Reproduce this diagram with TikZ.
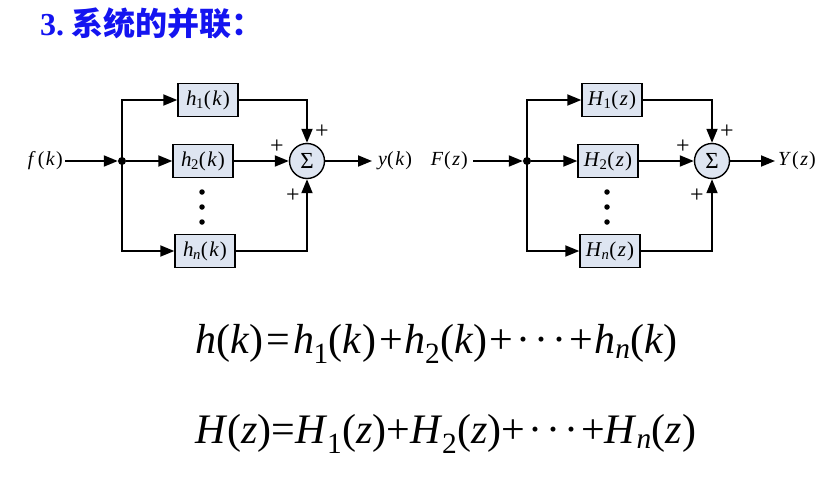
\documentclass[tikz,border=0pt]{standalone}
\usepackage{fontspec}
\setmainfont{Liberation Serif}
\newfontfamily\cjk{Noto Sans CJK SC}
\usetikzlibrary{arrows.meta,calc}
\definecolor{boxfill}{RGB}{222,229,241}
\definecolor{titleblue}{RGB}{20,20,240}
\newcommand{\vv}[1]{\textit{#1}}
\newcommand{\sbs}[1]{\kern-0.5pt\textsubscript{#1}}
\newcommand{\pk}[1]{(\kern1.5pt\textit{#1}\kern1pt)}
\newcommand{\cdts}{\kern3pt\textperiodcentered\kern4pt\textperiodcentered\kern4pt\textperiodcentered\kern3pt}
\begin{document}
\begin{tikzpicture}[x=1pt,y=-1pt,
  blk/.style={draw, line width=1.4pt, fill=boxfill, minimum width=60pt, minimum height=33pt, inner sep=1pt, font=\fontsize{21}{21}\selectfont},
  sumc/.style={circle, draw, line width=1.4pt, fill=boxfill, minimum size=35pt, inner sep=0pt, font=\fontsize{23}{23}\selectfont},
  lbl/.style={inner sep=0pt, font=\fontsize{20}{20}\selectfont},
  pl/.style={inner sep=0pt, font=\fontsize{24}{24}\selectfont},
  wire/.style={line width=1.8pt},
  arr/.style={wire, -{Triangle[length=14pt,width=11pt]}},
  jdot/.style={circle, fill, inner sep=0pt, minimum size=8pt},
  sdot/.style={circle, fill, inner sep=0pt, minimum size=5.5pt},
  eqn/.style={anchor=base west, inner sep=0pt, font=\fontsize{42}{42}\selectfont}
]
\useasboundingbox (0,0) rectangle (840,493);

% title
\node[anchor=base west, inner sep=0pt, text=titleblue, font=\fontsize{32}{32}\selectfont\bfseries] (title) at (40,35) {3.\kern7pt{\cjk\bfseries 系统的并联：}};

% ---------- left diagram ----------
\node[lbl, anchor=east] (fk) at (63,161) {\vv{f}\kern2pt\pk{k}};
\node[jdot] (j1) at (122,161) {};
\node[blk] (h1) at (208,100) {\vv{h}\sbs{1}\pk{k}};
\node[blk] (h2) at (203,161) {\vv{h}\sbs{2}\pk{k}};
\node[blk] (hn) at (205,251) {\vv{h}\sbs{\vv{n}}\pk{k}};
\node[sumc] (s1) at (307,161) {Σ};
\node[lbl, anchor=west] (yk) at (378,161) {\vv{y}\pk{k}};
\node[sdot] (d1) at (202,192) {};
\node[sdot] (d2) at (202,207) {};
\node[sdot] (d3) at (202,222) {};
\node[pl] (p1) at (322,132) {+};
\node[pl] (p2) at (277,147) {+};
\node[pl] (p3) at (293,196) {+};

\draw[arr] (fk.east) ++(2,0) -- (j1);
\draw[arr] (j1.center) |- (h1.west);
\draw[arr] (j1) -- (h2);
\draw[arr] (j1.center) |- (hn.west);
\draw[arr] (h1.east) -| (s1.north);
\draw[arr] (h2) -- (s1);
\draw[arr] (hn.east) -| (s1.south);
\draw[arr, shorten >=6pt] (s1) -- (yk);

% ---------- right diagram ----------
\node[lbl, anchor=east] (Fz) at (468,161) {\vv{F}\kern1pt\pk{z}};
\node[jdot] (j2) at (527,161) {};
\node[blk] (H1) at (612,100) {\vv{H}\sbs{1}\pk{z}};
\node[blk] (H2) at (608,161) {\vv{H}\sbs{2}\pk{z}};
\node[blk] (Hn) at (610,251) {\vv{H}\sbs{\vv{n}}\pk{z}};
\node[sumc] (s2) at (712,161) {Σ};
\node[lbl, anchor=west] (Yz) at (778,161) {\vv{Y}\kern1pt\pk{z}};
\node[sdot] (e1) at (607,192) {};
\node[sdot] (e2) at (607,207) {};
\node[sdot] (e3) at (607,222) {};
\node[pl] (q1) at (727,132) {+};
\node[pl] (q2) at (683,147) {+};
\node[pl] (q3) at (697,196) {+};

\draw[arr] (Fz.east) ++(5,0) -- (j2);
\draw[arr] (j2.center) |- (H1.west);
\draw[arr] (j2) -- (H2);
\draw[arr] (j2.center) |- (Hn.west);
\draw[arr] (H1.east) -| (s2.north);
\draw[arr] (H2) -- (s2);
\draw[arr] (Hn.east) -| (s2.south);
\draw[arr, shorten >=3pt] (s2) -- (Yz);

% ---------- equations ----------
\node[eqn] (eq1) at (195,353) {\vv{h}(\vv{k})\kern3pt=\kern3pt\vv{h}\sbs{1}(\vv{k})\kern3pt+\kern2pt\vv{h}\sbs{2}(\vv{k})\kern2pt+\cdts+\kern2pt\vv{h}\sbs{\vv{n}}(\vv{k})};
\node[eqn] (eq2) at (195,443) {\vv{H}(\vv{z})=\vv{H}\sbs{1}(\vv{z})+\vv{H}\sbs{2}(\vv{z})+\cdts+\vv{H}\sbs{\vv{n}}(\vv{z})};
\end{tikzpicture}
\end{document}
